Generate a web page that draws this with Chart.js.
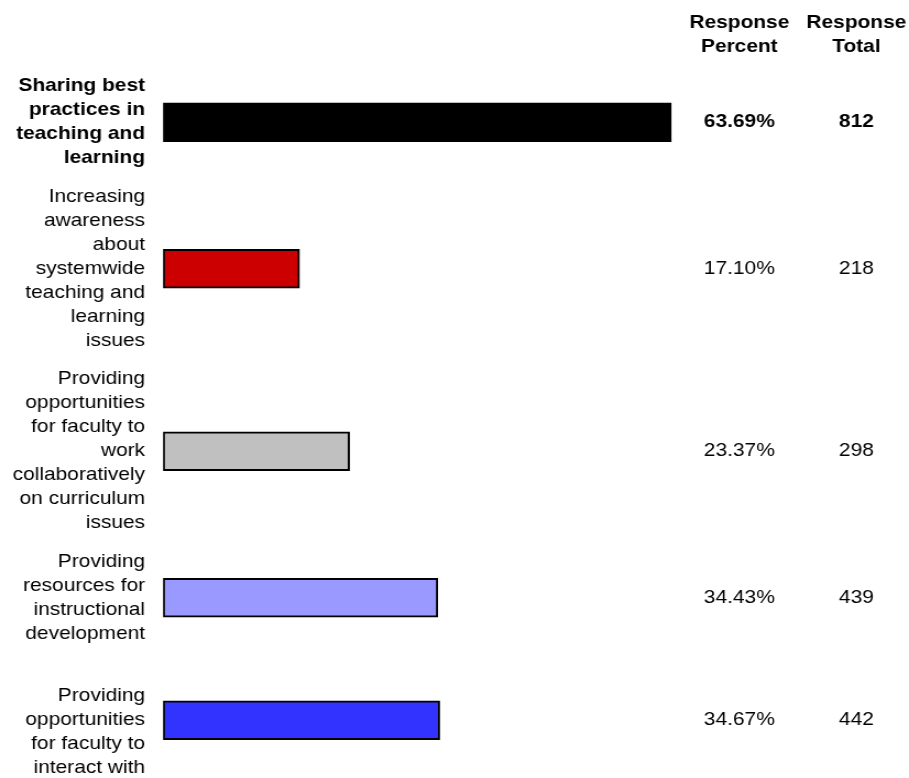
<!DOCTYPE html>
<html>
<head>
<meta charset="utf-8">
<script src="https://cdn.jsdelivr.net/npm/chart.js@4"></script>
<style>
  html, body { margin: 0; padding: 0; background: #fff; }
</style>
</head>
<body>
<!-- the original glyphs are a little wider than tall, so the canvas is stretched horizontally -->
<canvas id="chart" width="826" height="778" style="display:block;width:909px;height:778px"></canvas>
<script>
const labels = [
  ["Sharing best", "practices in", "teaching and", "learning"],
  ["Increasing", "awareness", "about", "systemwide", "teaching and", "learning", "issues"],
  ["Providing", "opportunities", "for faculty to", "work", "collaboratively", "on curriculum", "issues"],
  ["Providing", "resources for", "instructional", "development"],
  ["", "Providing", "opportunities", "for faculty to", "interact with"]
];
const percents = [63.69, 17.10, 23.37, 34.43, 34.67];
const totals = [812, 218, 298, 439, 442];
const colors = ["#000000", "#cc0000", "#c0c0c0", "#9999ff", "#3333ff"];
const headers = [["Response", "Percent"], ["Response", "Total"]];

const SX = 1.1;          // horizontal stretch of the canvas
const FONT = "'Liberation Sans', Arial, sans-serif";
const LINE = 24;         // px per text line
const ROW_PAD = 14.5;    // table cell padding per row
const TOP = 67;          // header height
const H = 778;

// rows are laid out like table rows: height follows the label's line count
const rowH = labels.map(l => l.length * LINE + ROW_PAD);
const centers = [];
let acc = 0;
rowH.forEach(h => { centers.push(acc + h / 2); acc += h; });

const colX = [739 / SX, 856 / SX];

const tablePlugin = {
  id: 'tableText',
  afterDraw(chart) {
    const ctx = chart.ctx;
    const y = chart.scales.y;
    ctx.save();
    ctx.fillStyle = '#000';
    ctx.textAlign = 'center';
    ctx.textBaseline = 'middle';
    ctx.font = `bold 19px ${FONT}`;
    headers.forEach((h, c) => {
      h.forEach((t, j) => ctx.fillText(t, colX[c], 23 + j * LINE));
    });
    percents.forEach((p, i) => {
      const py = y.getPixelForValue(centers[i]);
      ctx.font = `${i === 0 ? 'bold ' : ''}19px ${FONT}`;
      ctx.fillText(p.toFixed(2) + '%', colX[0], py);
      ctx.fillText(String(totals[i]), colX[1], py);
    });
    ctx.restore();
  }
};

Chart.defaults.color = '#000';

new Chart(document.getElementById('chart'), {
  type: 'bar',
  data: {
    datasets: [{
      data: percents.map((p, i) => ({ x: p, y: centers[i] })),
      backgroundColor: colors,
      borderColor: '#000',
      borderWidth: 2,
      borderSkipped: false,
      barThickness: 39
    }]
  },
  options: {
    indexAxis: 'y',
    responsive: false,
    maintainAspectRatio: false,
    devicePixelRatio: 1,
    animation: false,
    layout: {
      padding: { top: TOP, right: 826 - 163 / SX - 70 * 7.976 / SX, bottom: 0, left: 0 }
    },
    plugins: {
      legend: { display: false },
      tooltip: { enabled: false }
    },
    scales: {
      x: {
        type: 'linear',
        min: 0,
        max: 70,
        display: false
      },
      y: {
        type: 'linear',
        reverse: true,
        offset: false,
        bounds: 'data',
        min: 0,
        max: H - TOP,
        grid: { display: false, drawTicks: false, offset: false },
        border: { display: false },
        afterBuildTicks: (scale) => {
          scale.ticks = centers.map(v => ({ value: v }));
        },
        afterFit: (scale) => {
          scale.width = 163 / SX;
          // labels sit inside their rows, no extra room needed above/below
          scale.paddingTop = 0;
          scale.paddingBottom = 0;
        },
        ticks: {
          autoSkip: false,
          padding: 18 / SX,
          color: '#000',
          callback: (value, index) => labels[index],
          font: (ctx) => ({
            family: FONT,
            size: 19,
            lineHeight: LINE + 'px',
            weight: ctx.index === 0 ? 'bold' : 'normal'
          })
        }
      }
    }
  },
  plugins: [tablePlugin]
});
</script>
</body>
</html>
